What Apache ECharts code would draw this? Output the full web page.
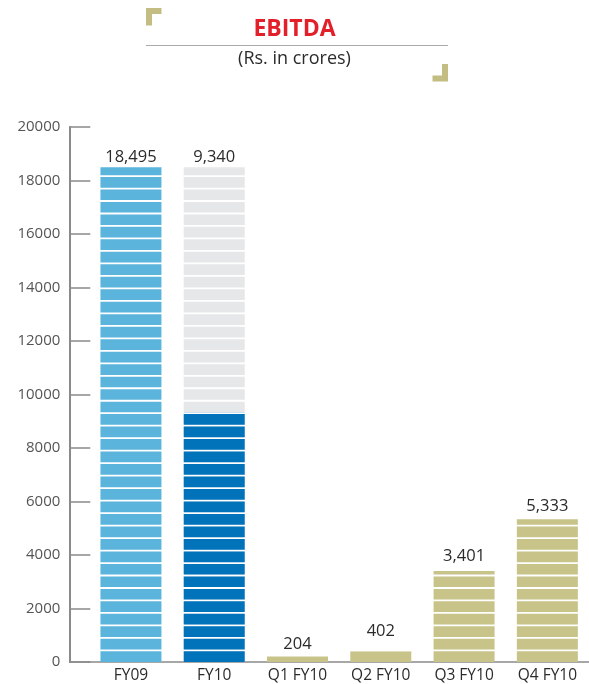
<!DOCTYPE html>
<html><head><meta charset="utf-8">
<script src="https://cdn.jsdelivr.net/npm/echarts@6/dist/echarts.min.js"></script>
<style>html,body{margin:0;padding:0;background:#fff}#c{width:589px;height:684px}</style>
</head><body><div id="c"></div>
<script>
const categories = ['FY09', 'FY10', 'Q1 FY10', 'Q2 FY10', 'Q3 FY10', 'Q4 FY10'];
const values = [18495, 9340, 204, 402, 3401, 5333];
const barColors = ['#5bb4dc', '#0073bb', '#c8c389', '#c8c389', '#c8c389', '#c8c389'];
const yTicks = { min: 0, max: 20000, interval: 2000 };
const titleText = 'EBITDA';
const subtitleText = '(Rs. in crores)';

const FONT = '"Open Sans", "Noto Sans", sans-serif';
const fmt = v => Number(v).toLocaleString('en-US');

const chart = echarts.init(document.getElementById('c'), null, { renderer: 'canvas' });

const stripe = {
  type: 'pictorialBar',
  symbol: 'rect',
  symbolRepeat: true,
  symbolClip: true,
  symbolBoundingData: yTicks.max,
  symbolSize: [61, 10.7],
  symbolMargin: 1,
  barWidth: 61,
  barGap: '-100%',
  animation: false
};

const labelStyle = {
  show: true, position: 'top', distance: 4, offset: [0, 5],
  color: '#2b2b2b', fontSize: 16.5, fontFamily: FONT
};

chart.setOption({
  animation: false,
  grid: { left: 89.3, right: -6.7, top: 127, bottom: 22, containLabel: false },
  xAxis: {
    type: 'category',
    data: categories,
    axisLine: { lineStyle: { color: '#8a8a8a', width: 1.5 } },
    axisTick: { show: false },
    axisLabel: { color: '#2b2b2b', fontSize: 15.5, fontFamily: FONT, margin: 6 }
  },
  yAxis: {
    type: 'value',
    min: yTicks.min, max: yTicks.max, interval: yTicks.interval,
    offset: 20,
    axisLine: { show: true, lineStyle: { color: '#8a8a8a', width: 2 } },
    axisTick: { show: true, inside: true, length: 21, lineStyle: { color: '#8a8a8a', width: 1.5 } },
    splitLine: { show: false },
    axisLabel: { color: '#555', fontSize: 15, fontFamily: FONT, margin: 9, formatter: v => String(v) }
  },
  series: [
    Object.assign({}, stripe, {
      name: 'bg',
      z: 1,
      data: categories.map((c, i) => i === 1 ? values[0] : '-'),
      itemStyle: { color: '#e6e7e8' },
      label: Object.assign({}, labelStyle, { formatter: () => fmt(values[1]) })
    }),
    Object.assign({}, stripe, {
      name: 'EBITDA',
      z: 2,
      data: values.map((v, i) => ({ value: v, itemStyle: { color: barColors[i] } })),
      label: Object.assign({}, labelStyle, { formatter: p => p.dataIndex === 1 ? '' : fmt(p.value) })
    })
  ],
  graphic: [
    { type: 'line', shape: { x1: 69, y1: 662, x2: 90, y2: 662 }, style: { stroke: '#8a8a8a', lineWidth: 1.5 } },
    { type: 'text', left: 'center', top: 18, style: { text: titleText, fill: '#e3202a', font: 'bold 23px ' + FONT, textAlign: 'center' } },
    { type: 'line', shape: { x1: 146, y1: 45.5, x2: 448, y2: 45.5 }, style: { stroke: '#aaaaaa', lineWidth: 1 } },
    { type: 'text', left: 'center', top: 50, style: { text: subtitleText, fill: '#2b2b2b', font: '18px ' + FONT, textAlign: 'center' } },
    { type: 'polyline', shape: { points: [[149, 25.5], [149, 11], [161.5, 11]] }, style: { stroke: '#c3bd83', lineWidth: 6, fill: null } },
    { type: 'polyline', shape: { points: [[432.5, 78.5], [445, 78.5], [445, 64]] }, style: { stroke: '#c3bd83', lineWidth: 6, fill: null } }
  ]
});
</script></body></html>
